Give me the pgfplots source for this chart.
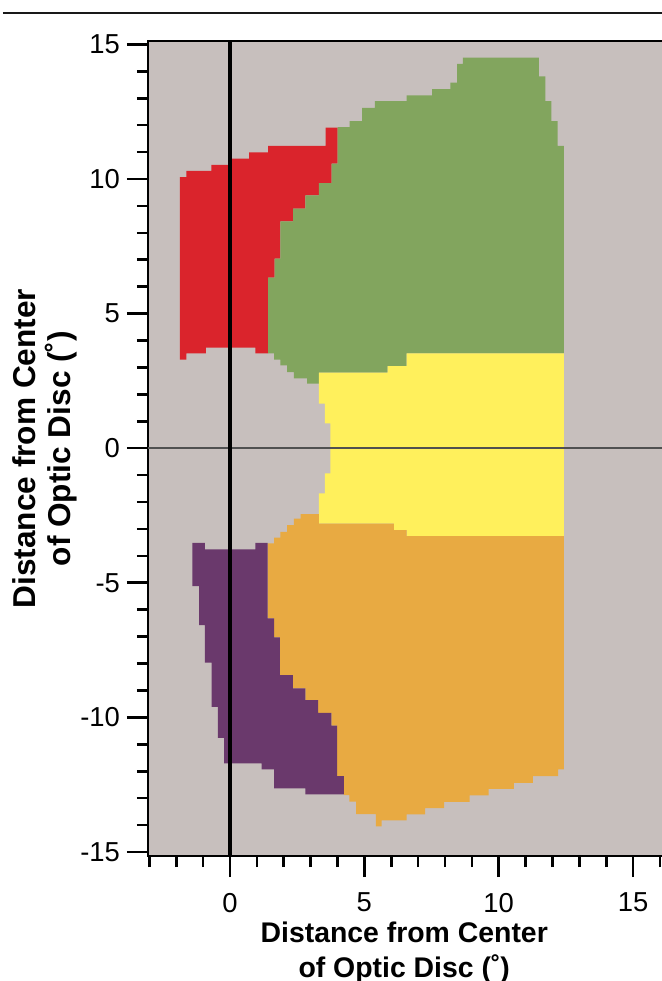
\documentclass[border=0pt]{standalone}
\usepackage{fontspec}
\setmainfont{Liberation Sans}
\usepackage{pgfplots}
\pgfplotsset{compat=1.18}
\definecolor{bggray}{RGB}{199,191,189}
\definecolor{cred}{RGB}{218,36,44}
\definecolor{cgreen}{RGB}{130,165,94}
\definecolor{cyellow}{RGB}{255,240,92}
\definecolor{corange}{RGB}{232,170,66}
\definecolor{cpurple}{RGB}{106,57,108}
\definecolor{hline}{RGB}{80,80,80}
\begin{document}
\begin{tikzpicture}
\path[use as bounding box] (-74pt,-62.5pt) rectangle (257pt,428pt);
\draw[line width=1.3pt, black!90] (-72.5pt,421.5pt) -- (260pt,421.5pt);
\begin{axis}[
  at={(0,0)}, anchor=south west,
  scale only axis,
  width=262.7pt, height=407.4pt,
  xmin=-3.05, xmax=16.5, ymin=-15.15, ymax=15.12,
  axis background/.style={fill=bggray},
  axis line style={line width=1.2pt},
  xtick={0,5,10,15}, minor xtick={-3,-2,...,16},
  ytick={-15,-10,...,15}, minor ytick={-15,-14,...,15},
  tick align=outside, xtick pos=bottom, ytick pos=left,
  major tick length=10.5pt, minor tick length=5.5pt,
  every tick/.style={black, line width=1.3pt},
  /pgf/number format/assume math mode=true,
  ticklabel style={font=\fontsize{13.7}{16}\selectfont},
  xticklabel style={yshift=-4.5pt},
  yticklabel style={xshift=0pt},
  xlabel={Distance from Center\\of Optic Disc (˚)},
  ylabel={Distance from Center\\of Optic Disc (˚)},
  label style={align=center},
  xlabel style={font=\bfseries\fontsize{14.2}{17.5}\selectfont, at={(axis description cs:0.4877,-0.1147)}, anchor=center, yshift=-1.5pt},
  ylabel style={font=\bfseries\fontsize{15.8}{17.5}\selectfont, at={(axis description cs:-0.1955,0.5)}, anchor=center},
  no markers,
]
% red
\addplot[fill=cred, draw=none] coordinates {
(-1.86,3.29) (-1.86,10.07) (-1.62,10.07) (-1.62,10.30) (-0.69,10.30) (-0.69,10.53)
(0,10.53) (0,10.76) (0.71,10.76) (0.71,10.99) (1.42,10.99) (1.42,11.23) (3.56,11.23)
(3.56,11.91) (4.01,11.91) (4.01,10.57) (3.78,10.57) (3.78,9.85) (3.31,9.85) (3.31,9.39)
(2.81,9.39) (2.81,8.90) (2.35,8.90) (2.35,8.43) (1.88,8.43) (1.88,7.04) (1.66,7.04)
(1.66,6.34) (1.42,6.34) (1.42,3.52) (0.95,3.52) (0.95,3.74) (-0.90,3.74) (-0.90,3.52)
(-1.62,3.52) (-1.62,3.29)};
% green
\addplot[fill=cgreen, draw=none] coordinates {
(1.42,3.52) (1.42,6.34) (1.66,6.34) (1.66,7.04) (1.88,7.04) (1.88,8.43) (2.35,8.43)
(2.35,8.90) (2.81,8.90) (2.81,9.39) (3.31,9.39) (3.31,9.85) (3.78,9.85) (3.78,10.57)
(4.01,10.57) (4.01,11.93) (4.45,11.93) (4.45,12.15) (4.92,12.15) (4.92,12.64)
(5.39,12.64) (5.39,12.89) (6.57,12.89) (6.57,13.11) (7.52,13.11) (7.52,13.34)
(8.20,13.34) (8.20,13.58) (8.45,13.58) (8.45,14.28) (8.67,14.28) (8.67,14.51)
(11.49,14.51) (11.49,13.81) (11.74,13.81) (11.74,12.89) (11.96,12.89) (11.96,12.15)
(12.19,12.15) (12.19,11.23) (12.42,11.23) (12.42,3.52) (6.57,3.52) (6.57,3.05)
(5.87,3.05) (5.87,2.81) (3.31,2.81) (3.31,2.40) (2.87,2.40) (2.87,2.59) (2.38,2.59)
(2.38,2.83) (2.13,2.83) (2.13,3.08) (1.88,3.08) (1.88,3.29) (1.64,3.29) (1.64,3.52)};
% yellow
\addplot[fill=cyellow, draw=none] coordinates {
(3.31,2.81) (5.87,2.81) (5.87,3.05) (6.57,3.05) (6.57,3.52) (12.42,3.52) (12.42,-3.27)
(6.57,-3.27) (6.57,-3.04) (6.10,-3.04) (6.10,-2.80) (3.31,-2.80) (3.31,-1.68)
(3.53,-1.68) (3.53,-0.94) (3.74,-0.94) (3.74,0.92) (3.53,0.92) (3.53,1.66) (3.31,1.66)};
% orange
\addplot[fill=corange, draw=none] coordinates {
(1.40,-3.54) (1.64,-3.54) (1.64,-3.32) (1.88,-3.32) (1.88,-3.11) (2.13,-3.11)
(2.13,-2.86) (2.38,-2.86) (2.38,-2.62) (2.63,-2.62) (2.63,-2.45) (3.31,-2.45)
(3.31,-2.80) (6.10,-2.80) (6.10,-3.04) (6.57,-3.04) (6.57,-3.27) (12.42,-3.27)
(12.42,-11.93) (12.21,-11.93) (12.21,-12.18) (11.27,-12.18) (11.27,-12.43)
(10.56,-12.43) (10.56,-12.66) (9.62,-12.66) (9.62,-12.90) (8.92,-12.90) (8.92,-13.14)
(7.97,-13.14) (7.97,-13.37) (7.26,-13.37) (7.26,-13.60) (6.57,-13.60) (6.57,-13.83)
(5.64,-13.83) (5.64,-14.05) (5.43,-14.05) (5.43,-13.59) (4.69,-13.59) (4.69,-13.13)
(4.44,-13.13) (4.44,-12.89) (4.24,-12.89) (4.24,-12.18) (3.99,-12.18) (3.99,-10.31)
(3.77,-10.31) (3.77,-9.83) (3.28,-9.83) (3.28,-9.36) (2.81,-9.36) (2.81,-8.92)
(2.34,-8.92) (2.34,-8.43) (1.86,-8.43) (1.86,-7.03) (1.64,-7.03) (1.64,-6.32)
(1.40,-6.32)};
% purple
\addplot[fill=cpurple, draw=none] coordinates {
(-1.40,-3.52) (-0.93,-3.52) (-0.93,-3.76) (0.95,-3.76) (0.95,-3.52) (1.40,-3.52)
(1.40,-6.32) (1.64,-6.32) (1.64,-7.03) (1.86,-7.03) (1.86,-8.43) (2.34,-8.43)
(2.34,-8.92) (2.81,-8.92) (2.81,-9.36) (3.28,-9.36) (3.28,-9.83) (3.77,-9.83)
(3.77,-10.31) (3.99,-10.31) (3.99,-12.18) (4.24,-12.18) (4.24,-12.86) (2.81,-12.86)
(2.81,-12.64) (1.64,-12.64) (1.64,-11.93) (1.18,-11.93) (1.18,-11.71) (-0.22,-11.71)
(-0.22,-10.76) (-0.45,-10.76) (-0.45,-9.61) (-0.68,-9.61) (-0.68,-7.97) (-0.93,-7.97)
(-0.93,-6.57) (-1.15,-6.57) (-1.15,-5.12) (-1.40,-5.12)};
% reference lines
\addplot[hline, line width=0.9pt] coordinates {(-3.05,0) (16.5,0)};
\addplot[black, line width=1.8pt] coordinates {(0,-15.15) (0,15.12)};
\end{axis}
\end{tikzpicture}
\end{document}
